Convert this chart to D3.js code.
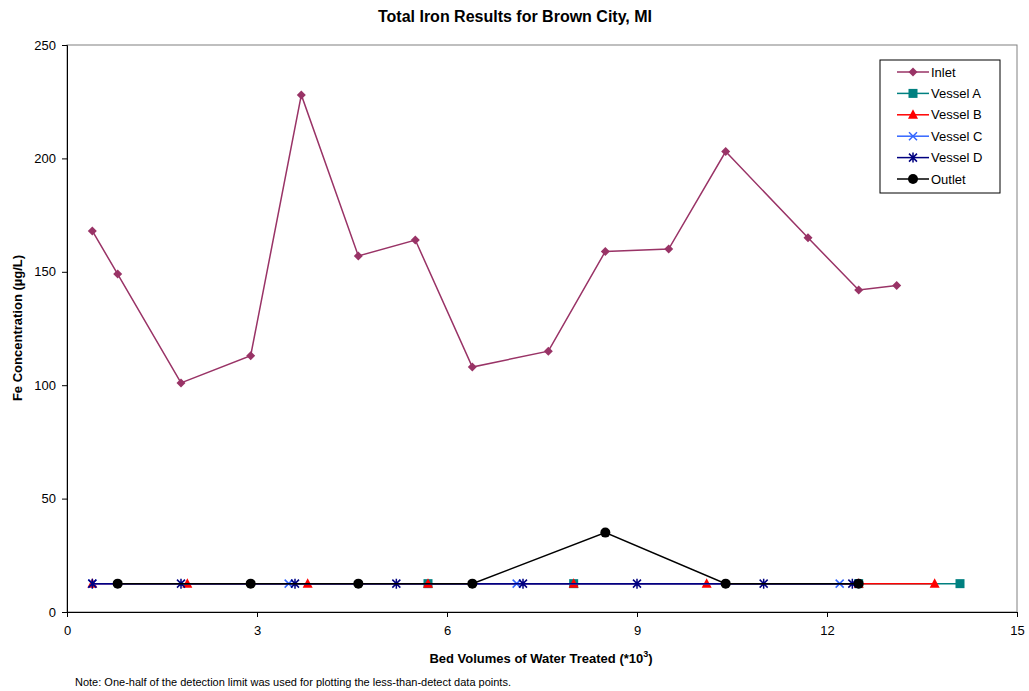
<!DOCTYPE html>
<html><head><meta charset="utf-8">
<script src="https://cdn.jsdelivr.net/npm/d3@7"></script>
<style>body{margin:0;background:#fff;font-family:Arial,"Liberation Sans",sans-serif;}</style>
</head><body>
<svg id="c" width="1029" height="691"></svg>
<script>
const xTicks = [0,3,6,9,12,15];
const yTicks = [0,50,100,150,200,250];
const inletX = [0.4,0.8,1.8,2.9,3.7,4.6,5.5,6.4,7.6,8.5,9.5,10.4,11.7,12.5,13.1];
const inletY = [168,149,101,113,228,157,164,108,115,159,160,203,165,142,144];
const vesselAX = [5.7,8.0,12.5,14.1];
const vesselAY = [12.5,12.5,12.5,12.5];
const vesselBX = [0.4,1.9,3.8,5.7,8.0,10.1,12.5,13.7];
const vesselBY = [12.5,12.5,12.5,12.5,12.5,12.5,12.5,12.5];
const vesselCX = [0.4,3.5,7.1,12.2];
const vesselCY = [12.5,12.5,12.5,12.5];
const vesselDX = [0.4,1.8,3.6,5.2,7.2,9.0,11.0,12.4];
const vesselDY = [12.5,12.5,12.5,12.5,12.5,12.5,12.5,12.5];
const outletX = [0.8,2.9,4.6,6.4,8.5,10.4,12.5];
const outletY = [12.5,12.5,12.5,12.5,35,12.5,12.5];

const seriesNames = ["Inlet","Vessel A","Vessel B","Vessel C","Vessel D","Outlet"];
const seriesColors = ["#993366","#008080","#FF0000","#3366FF","#000080","#000000"];
const seriesSymbols = ["diamond","square","triangle","x","star","circle"];
const seriesXs = [inletX,vesselAX,vesselBX,vesselCX,vesselDX,outletX];
const seriesYs = [inletY,vesselAY,vesselBY,vesselCY,vesselDY,outletY];

const svg = d3.select("#c");
const L=67,T=45,R=1017,B=612;
const x = d3.scaleLinear().domain([0,15]).range([L,R]);
const y = d3.scaleLinear().domain([0,250]).range([B,T]);

// frame
svg.append("rect").attr("x",L).attr("y",T).attr("width",R-L).attr("height",B-T)
  .attr("fill","none").attr("stroke","#808080").attr("stroke-width",1);

svg.append("g").attr("transform",`translate(${L},0)`)
  .call(d3.axisLeft(y).tickValues(yTicks).tickSize(5).tickPadding(6))
  .call(g=>{g.selectAll("text").attr("font-size",13).attr("font-family","Arial, Liberation Sans, sans-serif").attr("fill","#000");
            g.selectAll("line,path").attr("stroke","#000");});
svg.append("g").attr("transform",`translate(0,${B})`)
  .call(d3.axisBottom(x).tickValues(xTicks).tickSize(5).tickPadding(9))
  .call(g=>{g.selectAll("text").attr("font-size",13).attr("font-family","Arial, Liberation Sans, sans-serif").attr("fill","#000");
            g.selectAll("line,path").attr("stroke","#000");});

function drawMarker(g, sym, color, cx, cy){
  if(sym==="diamond"){
    g.append("path").attr("d",`M${cx},${cy-4.5}L${cx+4.5},${cy}L${cx},${cy+4.5}L${cx-4.5},${cy}Z`).attr("fill",color);
  } else if(sym==="square"){
    g.append("rect").attr("x",cx-4.5).attr("y",cy-4.5).attr("width",9).attr("height",9).attr("fill",color);
  } else if(sym==="triangle"){
    g.append("path").attr("d",`M${cx},${cy-5.5}L${cx+5},${cy+4}L${cx-5},${cy+4}Z`).attr("fill",color);
  } else if(sym==="x"){
    g.append("path").attr("d",`M${cx-4},${cy-4}L${cx+4},${cy+4}M${cx-4},${cy+4}L${cx+4},${cy-4}`).attr("stroke",color).attr("stroke-width",1.5);
  } else if(sym==="star"){
    g.append("path").attr("d",`M${cx-4},${cy-4}L${cx+4},${cy+4}M${cx-4},${cy+4}L${cx+4},${cy-4}M${cx},${cy-5}L${cx},${cy+5}`).attr("stroke",color).attr("stroke-width",1.5);
  } else if(sym==="circle"){
    g.append("circle").attr("cx",cx).attr("cy",cy).attr("r",5).attr("fill",color);
  }
}

const line = d3.line().x(d=>x(d[0])).y(d=>y(d[1]));
seriesNames.forEach((name,i)=>{
  const pts = seriesXs[i].map((v,j)=>[v,seriesYs[i][j]]);
  const g = svg.append("g");
  g.append("path").attr("d",line(pts)).attr("fill","none").attr("stroke",seriesColors[i]).attr("stroke-width",1.5);
  pts.forEach(p=>drawMarker(g,seriesSymbols[i],seriesColors[i],x(p[0]),y(p[1])));
});

// legend
const lg = svg.append("g");
lg.append("rect").attr("x",880).attr("y",60).attr("width",120).attr("height",133)
  .attr("fill","#fff").attr("stroke","#000").attr("stroke-width",1);
seriesNames.forEach((name,i)=>{
  const ly = 72 + i*21.4;
  lg.append("line").attr("x1",897).attr("x2",929).attr("y1",ly).attr("y2",ly).attr("stroke",seriesColors[i]).attr("stroke-width",1.5);
  drawMarker(lg,seriesSymbols[i],seriesColors[i],913,ly);
  lg.append("text").attr("x",931).attr("y",ly+4.5).attr("font-size",13).attr("fill","#000").text(name);
});

svg.append("text").attr("x",515).attr("y",22).attr("text-anchor","middle").attr("font-size",16).attr("font-weight","bold").text("Total Iron Results for Brown City, MI");
svg.append("text").attr("transform","translate(22,328) rotate(-90)").attr("text-anchor","middle").attr("font-size",13).attr("font-weight","bold").text("Fe Concentration (µg/L)");
const xl = svg.append("text").attr("x",541).attr("y",663).attr("text-anchor","middle").attr("font-size",13).attr("font-weight","bold");
xl.append("tspan").text("Bed Volumes of Water Treated (*10");
xl.append("tspan").attr("font-size",9).attr("dy",-6).text("3");
xl.append("tspan").attr("dy",6).text(")");
svg.append("text").attr("x",75).attr("y",686).attr("font-size",11).text("Note: One-half of the detection limit was used for plotting the less-than-detect data points.");
</script>
</body></html>
